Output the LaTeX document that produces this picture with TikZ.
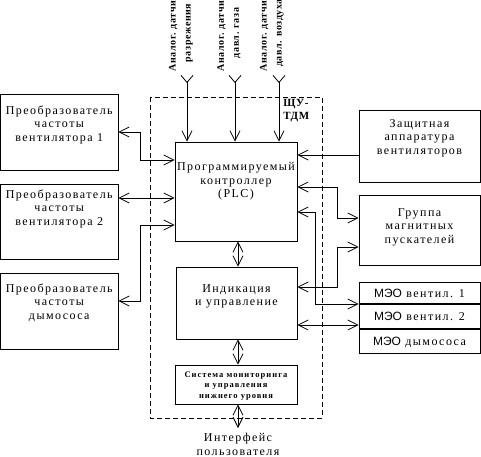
\documentclass[tikz,border=0pt]{standalone}
\usepackage{fontspec}
\setmainfont{Liberation Serif}
\newfontfamily\boxfont{Liberation Serif}[LetterSpace=12]
\newfontfamily\sensfont{Liberation Serif}[LetterSpace=6]
\newfontfamily\meofont{Liberation Sans}
\usetikzlibrary{arrows.meta,positioning}

\newcommand{\varbig}{\boxfont\fontsize{12}{13.5}\selectfont}
\newcommand{\varsmall}{\boxfont\bfseries\fontsize{8.5}{10.5}\selectfont}
\newcommand{\varsens}{\sensfont\bfseries\fontsize{10}{15}\selectfont}

\begin{document}
\begin{tikzpicture}[x=1pt,y=-1pt,line width=0.8pt,
	>={Straight Barb[length=10pt,width=10pt]},
	blk/.style={draw, align=center, inner sep=0pt, text height=#1, text depth=3pt, font=\varbig},
	meo/.style={draw, inner sep=0pt, text height=11.5pt, text depth=3pt, minimum width=121pt, minimum height=24pt, font=\varbig},
	sens/.style={rotate=90, anchor=west, align=center, inner sep=0pt, font=\varsens}]
	\useasboundingbox (0,0) rectangle (481,456);

	% frame
	\draw [dashed, dash pattern=on 5pt off 3pt] (150,97) rectangle (322,418);
	\node [anchor=north west, align=left, inner sep=0pt, font=\sensfont\bfseries\fontsize{11}{13}\selectfont] (shu) at (283,99) {ЩУ-\\ТДМ};

	% blocks
	\node [blk=21pt, minimum width=117.5pt, minimum height=76pt] (pf1) at (59.25,132) {Преобразователь\\частоты\\вентилятора 1};
	\node [blk=9.5pt, minimum width=117.5pt, minimum height=75.5pt] (pf2) at (59.25,221.75) {Преобразователь\\частоты\\вентилятора 2};
	\node [blk=19.6pt, minimum width=117.5pt, minimum height=76pt] (pf3) at (59.25,311) {Преобразователь\\частоты\\дымососа};
	\node [blk=15.4pt, minimum width=122pt, minimum height=99pt] (plc) at (236,191.5) {Программируемый\\контроллер\\(PLC)};
	\node [blk=8.4pt, minimum width=121pt, minimum height=72pt] (ind) at (236.5,303) {Индикация\\и управление};
	\node [blk=30pt, minimum width=122pt, minimum height=39pt, font=\varsmall] (sys) at (236,384.5) {Система мониторинга\\и управления\\нижнего уровня};
	\node [blk=19pt, minimum width=121pt, minimum height=72pt] (zasch) at (419.5,146) {Защитная\\аппаратура\\вентиляторов};
	\node [blk=29pt, minimum width=121pt, minimum height=70.5pt] (grp) at (419.5,230.25) {Группа\\магнитных\\пускателей};
	\node [meo, minimum height=21.5pt] (meo1) at (419.5,292.75) {{\meofont МЭО} вентил. 1};
	\node [meo, below=0pt of meo1] (meo2) {{\meofont МЭО} вентил. 2};
	\node [meo, below=0pt of meo2] (meo3) {{\meofont МЭО} дымососа};
	\node [align=center, inner sep=0pt, text height=27pt, text depth=3pt, font=\varbig, anchor=north] (user) at (238,428) {Интерфейс\\пользователя};

	% sensors
	\node [sens] (d1) at (181,72) {Аналог. датчик\\разрежения};
	\node [sens] (d2) at (229,72) {Аналог. датчик\\давл. газа};
	\node [sens] (d3) at (272,72) {Аналог. датчик\\давл. воздуха};
	\coordinate (s1) at (187,75);
	\coordinate (s2) at (235,75);
	\coordinate (s3) at (279,75);
	\foreach \s in {s1,s2,s3}
		\draw [{Straight Barb[reversed,length=7pt,width=12pt]}->] (\s) -- (plc.north -| \s);

	% left links
	\coordinate (k1) at (140,160);
	\coordinate (k2) at (140,198);
	\coordinate (k3) at (140,225);
	\coordinate (k4) at (140,301);
	\draw [<->] (pf1.east) -| (k1) -- (plc.west |- k1);
	\draw [<->] (pf2.east |- k2) -- (plc.west |- k2);
	\draw [<->] (pf3.east |- k4) -- (k4) -- (k3) -- (plc.west |- k3);

	% right links
	\coordinate (r1) at (330,155);
	\coordinate (r2) at (337,187);
	\coordinate (r3) at (337,218);
	\coordinate (r4) at (315,212);
	\coordinate (r5) at (315,304);
	\coordinate (r6) at (337,247);
	\coordinate (r7) at (337,287);
	\coordinate (r8) at (330,325);
	\draw [->] (zasch.west |- r1) -- (plc.east |- r1);
	\draw [<->] (plc.east |- r2) -- (r2) -- (r3) -- (grp.west |- r3);
	\draw [<->] (plc.east |- r4) -- (r4) -- (r5) -- (meo1.west |- r5);
	\draw [<->] (grp.west |- r6) -- (r6) -- (r7) -- (ind.east |- r7);
	\draw [<->] (ind.east |- r8) -- (meo2.west |- r8);

	% trunk
	\coordinate (v) at (238,0);
	\draw [<->] (plc.south -| v) -- (ind.north -| v);
	\draw [<->] (ind.south -| v) -- (sys.north -| v);
	\draw [<->] (sys.south -| v) -- (user.north);
\end{tikzpicture}
\end{document}
